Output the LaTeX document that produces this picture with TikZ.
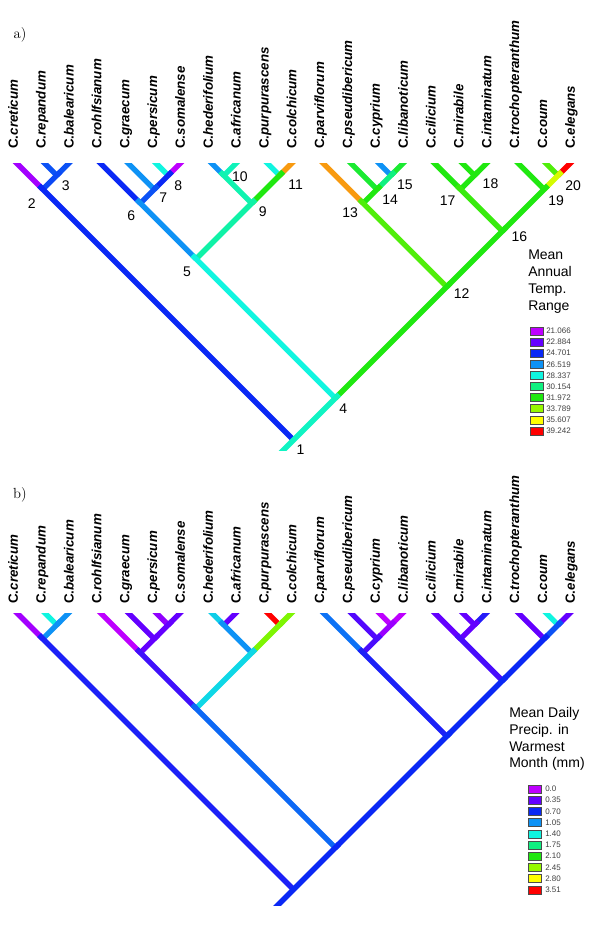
\documentclass[tikz,border=0pt]{standalone}
\usepackage{fontspec}
\newfontfamily\arial{Liberation Sans}
\usetikzlibrary{calc}
\definecolor{vA}{HTML}{BE00FF}
\definecolor{vB}{HTML}{6400FF}
\definecolor{vC}{HTML}{0A28F5}
\definecolor{vD}{HTML}{0E92F5}
\definecolor{vE}{HTML}{10F5E0}
\definecolor{vF}{HTML}{10F080}
\definecolor{vG}{HTML}{20E810}
\definecolor{vH}{HTML}{96F800}
\definecolor{vI}{HTML}{FFFF00}
\definecolor{vJ}{HTML}{FF0000}
\definecolor{vO}{HTML}{F89A10}
\newcommand{\spp}{creticum,repandum,balearicum,rohlfsianum,graecum,persicum,somalense,hederifolium,africanum,purpurascens,colchicum,parviflorum,pseudibericum,cyprium,libanoticum,cilicium,mirabile,intaminatum,trochopteranthum,coum,elegans}
\begin{document}
\begin{tikzpicture}[x=0.75pt,y=-0.75pt,
    br/.style={line width=4pt},
    tipbr/.style={br,shorten >=-6pt},
    inbr/.style={br,shorten <=-4pt},
    spname/.style={rotate=90,anchor=mid west,inner sep=0pt,font=\arial\bfseries\fontsize{10}{12}\selectfont},
    num/.style={inner sep=0pt,font=\arial\fontsize{10.5}{12}\selectfont},
    legtitle/.style={anchor=north west,align=left,inner sep=0pt,font=\arial\fontsize{10.5}{12.6}\selectfont},
    swatch/.style={draw=black!70,line width=.4pt,minimum width=9.75pt,minimum height=6pt,inner sep=0pt},
    legval/.style={anchor=west,inner sep=0pt,text=black!75,font=\arial\fontsize{6}{7}\selectfont},
    panel/.style={inner sep=0pt,font=\fontsize{11}{12}\selectfont}]
    \useasboundingbox (0,0) rectangle (600,926);
    \node[panel] (pa) at (20,35) {a)};
    \node[panel] (pb) at (20,495) {b)};
    \foreach \s [count=\i from 0] in \spp {
        \node[spname] (sA\i) at ({15+27.85*\i},149) {C.\textit{\s}};
        \node[spname] (sB\i) at ({15+27.85*\i},604) {C.\textit{\s}};
        \coordinate (tA\i) at ({15+27.85*\i},161.5);
        \coordinate (tB\i) at ({15+27.85*\i},611);
    }
    \foreach \n/\i/\j in {1/0/20,2/0/2,3/1/2,4/3/20,5/3/10,6/3/6,7/4/6,8/5/6,9/7/10,10/7/8,11/9/10,12/11/20,13/11/14,14/12/14,15/13/14,16/15/20,17/15/17,18/16/17,19/18/20,20/19/20} {
        \coordinate (nA\n) at ({15+13.925*(\i+\j)},{161.5+13.925*(\j-\i)});
        \coordinate (nB\n) at ({15+13.925*(\i+\j)},{611+13.925*(\j-\i)});
    }
    \coordinate (rA) at ($(nA1)+(-15,15)$);
    \coordinate (rB) at ($(nB1)+(-25,25)$);
    \begin{scope}
        \clip (0,163) rectangle (600,450);
        \foreach \a/\b/\c in {nA2/tA0/vA!70!vB,nA3/tA1/vC!60!vD,nA3/tA2/vC!60!vD,nA6/tA3/vC,nA7/tA4/vD,nA8/tA5/vE,nA8/tA6/vA,nA10/tA7/vD,nA10/tA8/vE!60!vF,nA11/tA9/vE,nA11/tA10/vO,nA13/tA11/vO,nA14/tA12/vG!70!vF,nA15/tA13/vD,nA15/tA14/vG!70!vF,nA17/tA15/vG,nA18/tA16/vG,nA18/tA17/vG,nA19/tA18/vG,nA20/tA19/vG!60!vH,nA20/tA20/vJ}
            \draw[tipbr,\c] (\a) -- (\b);
        \foreach \a/\b/\c in {nA20/nA19/vI!60!vH,nA19/nA16/vG,nA18/nA17/vG,nA17/nA16/vG!80!vH,nA16/nA12/vG,nA15/nA14/vF,nA14/nA13/vG,nA13/nA12/vG!60!vH,nA12/nA4/vG,nA11/nA9/vG,nA10/nA9/vE!50!vF,nA9/nA5/vF!60!vE,nA8/nA7/vC,nA7/nA6/vC!60!vD,nA6/nA5/vD,nA5/nA4/vE,nA3/nA2/vC!70!vD,nA2/nA1/vC}
            \draw[inbr,\c] (\a) -- (\b);
        \draw[inbr,vE!70!vF] (nA4) -- (nA1) -- (rA);
    \end{scope}
    \begin{scope}
        \clip (0,613) rectangle (600,905);
        \foreach \a/\b/\c in {nB2/tB0/vA!70!vB,nB3/tB1/vE,nB3/tB2/vD,nB6/tB3/vA,nB7/tB4/vB,nB8/tB5/vA!50!vB,nB8/tB6/vB,nB10/tB7/vE!60!vD,nB10/tB8/vB,nB11/tB9/vJ,nB11/tB10/vH!80!vG,nB13/tB11/vD!70!vC,nB14/tB12/vB!80!vC,nB15/tB13/vA,nB15/tB14/vA,nB17/tB15/vB,nB18/tB16/vB,nB18/tB17/vC!70!vB,nB19/tB18/vB,nB20/tB19/vE,nB20/tB20/vB}
            \draw[tipbr,\c] (\a) -- (\b);
        \foreach \a/\b/\c in {nB20/nB19/vC!60!vD,nB19/nB16/vC,nB18/nB17/vB,nB17/nB16/vB!70!vC,nB16/nB12/vC,nB15/nB14/vA!60!vB,nB14/nB13/vB!70!vC,nB13/nB12/vC!80!vB,nB12/nB4/vC,nB11/nB9/vH!80!vG,nB10/nB9/vD,nB9/nB5/vE!70!vD,nB8/nB7/vB,nB7/nB6/vB,nB6/nB5/vB!60!vC,nB5/nB4/vD!60!vC,nB3/nB2/vD,nB2/nB1/vC!80!vB}
            \draw[inbr,\c] (\a) -- (\b);
        \draw[inbr,vC] (nB4) -- (nB1) -- (rB);
    \end{scope}
    \foreach \n/\dx/\dy in {1/7/10,2/-11/14,3/9/10,4/8/10,5/-9/13,6/-9/12,7/9/8,8/10/10,9/11/8,10/16/1,11/16/9,12/15/7,13/-13/9,14/13/10,15/14/9,16/17/6,17/-13/11,18/16/8,19/12/11,20/15/10}
        \node[num] (kA\n) at ($(nA\n)+(\dx,\dy)$) {\n};
    \node[legtitle] (ttA) at (528,250) {Mean\\Annual\\Temp.\\Range};
    \node[legtitle] (ttB) at (509,707) {Mean Daily\\Precip. in\\Warmest\\Month (mm)};
    \foreach \c/\v [count=\k from 0] in {vA/21.066,vB/22.884,vC/24.701,vD/26.519,vE/28.337,vF/30.154,vG/31.972,vH/33.789,vI/35.607,vJ/39.242} {
        \node[swatch,fill=\c] (swA\k) at (536.5,{331+11.1*\k}) {};
        \node[legval] (lvA\k) at (546,{331+11.1*\k}) {\v};
    }
    \foreach \c/\v [count=\k from 0] in {vA/0.0,vB/0.35,vC/0.70,vD/1.05,vE/1.40,vF/1.75,vG/2.10,vH/2.45,vI/2.80,vJ/3.51} {
        \node[swatch,fill=\c] (swB\k) at (535,{789+11.2*\k}) {};
        \node[legval] (lvB\k) at (545,{789+11.2*\k}) {\v};
    }
\end{tikzpicture}
\end{document}
